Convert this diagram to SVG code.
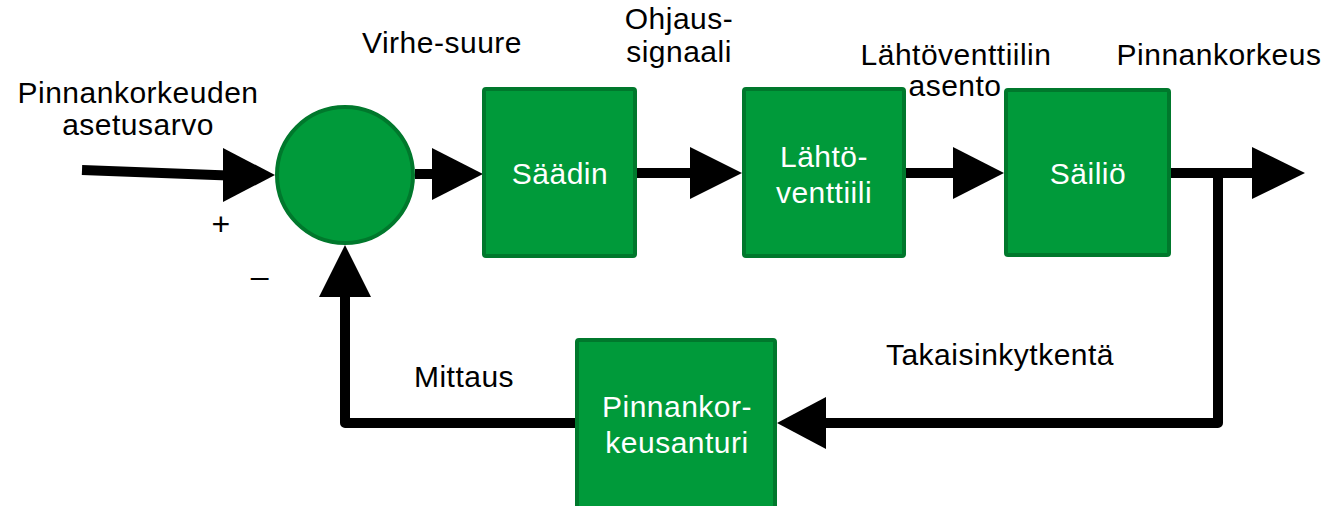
<svg xmlns="http://www.w3.org/2000/svg" width="1330" height="506" viewBox="0 0 1330 506">
<style>
.box{fill:#009a3a;stroke:#00782c;stroke-width:4}
.line{fill:none;stroke:#000;stroke-width:10;stroke-linejoin:round}
.head{fill:#000}
text{font-family:"Liberation Sans",Arial,sans-serif;font-size:30px;letter-spacing:0.5px;text-anchor:middle;fill:#000}
.w{fill:#fff}
.sign{font-size:32px}
</style>
<rect width="1330" height="506" fill="#fff"/>
<g id="connectors">
<path class="line" d="M82,170 L228,175.5"/>
<polygon class="head" points="223,148 275,175 223,202"/>
<path class="line" d="M415,174 L436,174"/>
<polygon class="head" points="432,148 483,174 432,200"/>
<path class="line" d="M637,173 L694,173"/>
<polygon class="head" points="690,147 742,173 690,199"/>
<path class="line" d="M906,173 L957,173"/>
<polygon class="head" points="953,147 1004,173 953,199"/>
<path class="line" d="M1171,173 L1256,173"/>
<polygon class="head" points="1252,147 1305,173 1252,199"/>
<path class="line" d="M1218,168 L1218,423 L822,423"/>
<polygon class="head" points="826,397 777,423 826,449"/>
<path class="line" d="M575,423 L345,423 L345,293"/>
<polygon class="head" points="319,297 345,245 371,297"/>
</g>
<g id="sum">
<circle class="box" cx="345" cy="175" r="68"/>
</g>
<g id="saadin">
<rect class="box" x="484" y="89" width="151" height="167" rx="2"/>
<text class="w" x="560" y="184">Säädin</text>
</g>
<g id="lahtoventtiili">
<rect class="box" x="744" y="89" width="160" height="167" rx="2"/>
<text class="w" x="824" y="167">Lähtö-</text>
<text class="w" x="824" y="203">venttiili</text>
</g>
<g id="sailio">
<rect class="box" x="1006" y="90" width="163" height="165" rx="2"/>
<text class="w" x="1088" y="184">Säiliö</text>
</g>
<g id="anturi">
<rect class="box" x="577" y="340" width="198" height="172" rx="2"/>
<text class="w" x="677" y="417">Pinnankor-</text>
<text class="w" x="677" y="453">keusanturi</text>
</g>
<g id="labels">
<text x="138" y="103">Pinnankorkeuden</text>
<text x="138" y="135">asetusarvo</text>
<text x="442" y="53">Virhe-suure</text>
<text x="679" y="29">Ohjaus-</text>
<text x="679" y="62">signaali</text>
<text x="956" y="65">Lähtöventtiilin</text>
<text x="955" y="96">asento</text>
<text x="1219" y="65">Pinnankorkeus</text>
<text x="464" y="387">Mittaus</text>
<text x="1000" y="365">Takaisinkytkentä</text>
<text class="sign" x="221" y="235">+</text>
<text class="sign" x="260" y="287">–</text>
</g>
</svg>
